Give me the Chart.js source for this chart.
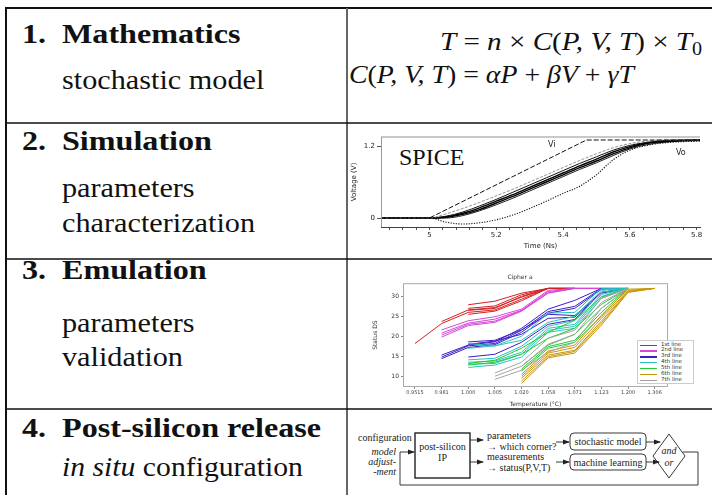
<!DOCTYPE html>
<html>
<head>
<meta charset="utf-8">
<script src="https://cdn.jsdelivr.net/npm/chart.js@4.4.0/dist/chart.umd.min.js"></script>
<style>
  body { margin: 0; width: 712px; height: 495px; overflow: hidden; background: #fff; position: relative; }
  .abs { position: absolute; }
  svg { position: absolute; left: 0; top: 0; }
  .t { position: absolute; font-family: "Liberation Serif", serif; font-size: 27px; line-height: normal; white-space: nowrap; color: #111; transform-origin: 0 0; }
  .h { font-weight: bold; transform: scaleX(1.19); }
  .r { transform: scaleX(1.12); }
  .f { font-size: 26px; }
  .f i { font-style: italic; }
  .sub { font-size: 18px; position: relative; top: 5px; }
  .lbl { position: absolute; font-family: "DejaVu Sans", sans-serif; color: #222; white-space: nowrap; }
  #legend { position: absolute; left: 637px; top: 340px; width: 55px; height: 42px; border: 1px solid #ccc; background: #fff; }
  #legend .item { position: absolute; left: 0; height: 6px; width: 55px; }
  #legend .swatch { position: absolute; left: 2px; top: 2.5px; width: 17px; height: 1.3px; }
  #legend .txt { position: absolute; left: 23px; top: -1.5px; font-family: "DejaVu Sans", sans-serif; font-size: 5.5px; color: #333; }
</style>
</head>
<body>

<svg width="712" height="495">
  <line x1="5" y1="8" x2="712" y2="8" stroke="#111" stroke-width="2"/>
  <line x1="6" y1="7" x2="6" y2="495" stroke="#111" stroke-width="2"/>
  <line x1="347" y1="8" x2="347" y2="495" stroke="#666" stroke-width="2"/>
  <line x1="6" y1="123" x2="712" y2="123" stroke="#111" stroke-width="1.5"/>
  <line x1="6" y1="259" x2="712" y2="259" stroke="#111" stroke-width="1.5"/>
  <line x1="6" y1="409" x2="712" y2="409" stroke="#111" stroke-width="1.5"/>
</svg>

<div class="t h" style="left:22px;top:19px">1.</div>
<div class="t h" style="left:62px;top:19px">Mathematics</div>
<div class="t r" style="left:62px;top:65px">stochastic model</div>
<div class="t h" style="left:22px;top:126px">2.</div>
<div class="t h" style="left:62px;top:126px">Simulation</div>
<div class="t r" style="left:62px;top:173px">parameters</div>
<div class="t r" style="left:62px;top:208px">characterization</div>
<div class="t h" style="left:22px;top:255px">3.</div>
<div class="t h" style="left:62px;top:255px">Emulation</div>
<div class="t r" style="left:62px;top:308px">parameters</div>
<div class="t r" style="left:62px;top:342px">validation</div>
<div class="t h" style="left:22px;top:413px">4.</div>
<div class="t h" style="left:62px;top:413px">Post-silicon release</div>
<div class="t" style="left:62px;top:452px;transform:scaleX(1.1)"><i>in situ</i> configuration</div>

<div class="t f" style="right:10px;top:27px;transform-origin:100% 0;transform:scaleX(1.12)"><i>T</i> = <i>n</i> × <i>C</i>(<i>P, V, T</i>) × <i>T</i><span class="sub">0</span></div>
<div class="t f" style="left:349px;top:60px;transform:scaleX(1.07)"><i>C</i>(<i>P, V, T</i>) = <i>αP</i> + <i>βV</i> + <i>γT</i></div>

<div class="t" style="left:399px;top:144px;font-size:24px">SPICE</div>
<div class="abs" style="left:350px;top:128px;width:360px;height:122px"><canvas id="spice-chart" width="360" height="122"></canvas></div>
<div class="lbl" style="left:548px;top:140px;font-size:8px">Vi</div>
<div class="lbl" style="left:676px;top:148px;font-size:8px">Vo</div>

<div class="abs" style="left:372px;top:268px;width:338px;height:140px"><canvas id="cipher-chart" width="338" height="140"></canvas></div>
<div id="legend"></div>

<svg style="left:346px;top:409px" width="366" height="86">
  <defs>
    <marker id="ah" markerWidth="7" markerHeight="6" refX="6" refY="3" orient="auto" markerUnits="userSpaceOnUse">
      <path d="M0,0.6 L7,3 L0,5.4 z" fill="#222"/>
    </marker>
  </defs>
  <g style="font-family:'Liberation Serif',serif;font-size:10px;fill:#222">
    <text x="12" y="32">configuration</text>
    <text x="50" y="46" text-anchor="end" font-style="italic">model</text>
    <text x="50" y="56" text-anchor="end" font-style="italic">adjust-</text>
    <text x="50" y="66" text-anchor="end" font-style="italic">-ment</text>
    <text x="96.5" y="41" text-anchor="middle">post-silicon</text>
    <text x="96.5" y="52" text-anchor="middle">IP</text>
    <text x="141" y="30">parameters</text>
    <text x="141" y="40.5">→ which corner?</text>
    <text x="141" y="50.5">measurements</text>
    <text x="141" y="62">→ status(P,V,T)</text>
    <text x="262" y="36" text-anchor="middle">stochastic model</text>
    <text x="262" y="57" text-anchor="middle">machine learning</text>
    <text x="323" y="45" text-anchor="middle" font-style="italic">and</text>
    <text x="323" y="57" text-anchor="middle" font-style="italic">or</text>
  </g>
  <g fill="none" stroke="#222" stroke-width="0.9">
    <rect x="69" y="24" width="55" height="45" stroke-width="1.4"/>
    <line x1="124" y1="31" x2="137" y2="31" marker-end="url(#ah)"/>
    <line x1="124" y1="53" x2="137" y2="53" marker-end="url(#ah)"/>
    <line x1="210" y1="33" x2="223" y2="33" marker-end="url(#ah)"/>
    <line x1="210" y1="53" x2="223" y2="53" marker-end="url(#ah)"/>
    <rect x="224" y="24" width="76" height="17" rx="4"/>
    <rect x="224" y="45" width="76" height="16" rx="4"/>
    <line x1="300" y1="33" x2="314" y2="33" marker-end="url(#ah)"/>
    <line x1="300" y1="53" x2="313" y2="53" marker-end="url(#ah)"/>
    <polygon points="323,25 339,47 323,69 307,47"/>
    <polyline points="337,43 352,43 352,76 54,76 54,43 68,43" marker-end="url(#ah)"/>
  </g>
</svg>

<script>
// ---- SPICE transient (Voltage vs time) ----
var spiceTime = [4.855, 5.0, 5.05, 5.1, 5.15, 5.2, 5.25, 5.3, 5.35, 5.4, 5.45, 5.5, 5.55, 5.6, 5.65, 5.7, 5.75, 5.81];
var viTime = [4.855, 5.0, 5.47, 5.81];
var viVolt = [0, 0, 1.3, 1.3];
var voGray = [0, 0, 0.07, 0.16, 0.26, 0.37, 0.48, 0.6, 0.72, 0.84, 0.96, 1.07, 1.17, 1.24, 1.28, 1.3, 1.3, 1.3];
var voA = [0, 0, 0.03, 0.1, 0.2, 0.31, 0.43, 0.55, 0.67, 0.79, 0.91, 1.02, 1.13, 1.21, 1.26, 1.29, 1.3, 1.3];
var voB = [0, 0, 0.02, 0.08, 0.17, 0.28, 0.39, 0.51, 0.63, 0.75, 0.87, 0.98, 1.1, 1.19, 1.25, 1.28, 1.29, 1.3];
var voC = [0, 0, 0.01, 0.06, 0.14, 0.25, 0.36, 0.48, 0.6, 0.72, 0.84, 0.95, 1.07, 1.17, 1.24, 1.27, 1.29, 1.3];
var voD = [0, 0, 0, 0.04, 0.12, 0.22, 0.33, 0.45, 0.57, 0.69, 0.81, 0.92, 1.04, 1.15, 1.22, 1.26, 1.28, 1.29];
var voLow = [0, 0, -0.07, -0.1, -0.08, -0.03, 0.05, 0.16, 0.28, 0.41, 0.53, 0.72, 0.97, 1.13, 1.21, 1.25, 1.27, 1.28];
var spiceYTicks = [0, 1.2];

// ---- Cipher a (Status DS vs temperature) ----
var tempLabels = ["0.9515", "0.981", "1.000", "1.005", "1.020", "1.058", "1.071", "1.123", "1.200", "1.306"];
var lineNames = ["1st line", "2nd line", "3rd line", "4th line", "5th line", "6th line", "7th line"];
var lineColors = ["#d62020", "#d846d8", "#3a1fc8", "#28c4bc", "#26c834", "#c8960a", "#a4a4a4"];
var line1 = [
  [18.2, 23.2, 26.0, 26.6, 29.3, 32, 32, null, null, null],
  [null, 23.7, 26.6, 27.2, 29.8, 32, 32, null, null, null],
  [null, null, 27.9, 28.8, 30.8, 32, 32, null, null, null],
  [null, null, 27.0, 27.6, 30.4, 32, 32, null, null, null],
  [null, null, 26.5, 27.0, 30.0, 32, 32, null, null, null],
  [null, null, 25.5, 26.3, 28.9, 32, 32, null, null, null]
];
var line2 = [
  [null, 21.6, 23.9, 24.9, 26.8, 31.5, 32, 32, null, null],
  [null, 20.8, 23.3, 24.3, 26.5, 31.2, 32, 32, null, null],
  [null, 20.3, 23.0, 23.8, 26.4, 30.9, 32, 32, null, null],
  [null, 19.8, 22.7, 23.5, 26.3, 30.8, 32, 32, null, null]
];
var line3 = [
  [null, 15.3, 17.8, 18.6, 22.0, 26.8, 29.0, 32, 32, null],
  [null, 14.8, 17.6, 18.2, 21.5, 26.2, 27.5, 32, 32, null],
  [null, 14.4, 17.2, 17.9, 21.0, 25.8, 27.0, 31.8, 32, null],
  [null, null, 18.6, 19.0, 21.6, 25.5, 25.2, 31.0, 32, null],
  [null, null, 18.0, 18.8, 20.5, 24.5, 24.8, 30.8, 32, null],
  [null, null, 14.8, 15.5, 18.5, 23.0, 24.2, 31.0, 32, null]
];
var line4 = [
  [null, null, 18.2, 17.6, 20.0, 25.8, 26.0, 32, 32, null],
  [null, null, 17.0, 17.6, 19.0, 23.5, 25.0, 31.5, 32, null],
  [null, null, 14.1, 14.5, 17.5, 22.5, 24.0, 31.0, 32, null],
  [null, null, 13.5, 13.8, 16.0, 22.0, 23.0, 30.5, 32, null],
  [null, null, 13.0, 13.2, 15.5, 21.5, 22.5, 30.0, 32, null],
  [null, null, 12.2, 12.8, 14.8, 21.0, 22.0, 29.5, 32, null]
];
var line5 = [
  [null, null, 13.2, 14.0, 17.0, 21.0, 24.0, 29.8, 32, null],
  [null, null, 12.8, 13.5, 15.5, 19.5, 22.0, 28.0, 32, null],
  [null, null, null, null, 12.5, 17.8, 20.5, 27.0, 32, null],
  [null, null, null, null, 11.8, 17.4, 19.0, 26.0, 32, null],
  [null, null, null, null, 11.3, 17.0, 18.5, 25.0, 32, null]
];
var line6 = [
  [null, null, null, null, 10.5, 16.3, 17.8, 25.3, 31.8, 32],
  [null, null, null, null, 10.0, 15.8, 17.2, 24.5, 31.5, 32],
  [null, null, null, null, 9.5, 15.3, 16.5, 23.8, 31.3, 32],
  [null, null, null, null, 8.8, 14.9, 16.2, 23.3, 31.1, 32],
  [null, null, null, null, 8.2, 14.6, 15.8, 22.8, 31.0, 32]
];
var line7 = [
  [null, null, null, 10.8, 13.5, 19.5, 21.5, 29.5, 32, null],
  [null, null, null, 10.0, 12.5, 18.0, 20.5, 28.5, 32, null],
  [null, null, null, 9.2, 11.5, 16.0, 18.5, 27.0, 32, null]
];
var cipherYTicks = [10, 15, 20, 25, 30];

Chart.defaults.font.family = "DejaVu Sans";
Chart.defaults.color = "#222";

var toPoints = function(xs, ys) {
  return xs.map(function(x, i) { return { x: x, y: ys[i] }; });
};

var spiceFrame = {
  id: "spiceFrame",
  afterDraw: function(chart) {
    var a = chart.chartArea, ctx = chart.ctx;
    ctx.save();
    ctx.strokeStyle = "#c8c8c8";
    ctx.lineWidth = 2;
    ctx.beginPath();
    ctx.moveTo(a.left, a.top);
    ctx.lineTo(a.right, a.top);
    ctx.stroke();
    ctx.strokeStyle = "#999";
    ctx.lineWidth = 1;
    ctx.beginPath();
    ctx.moveTo(a.left + 0.5, a.top);
    ctx.lineTo(a.left + 0.5, a.bottom);
    ctx.stroke();
    ctx.restore();
  }
};

var spiceLine = function(ys, color, width, dash) {
  return {
    data: toPoints(spiceTime, ys),
    borderColor: color,
    borderWidth: width,
    borderDash: dash,
    cubicInterpolationMode: "monotone",
    pointRadius: 0,
    fill: false
  };
};

var spiceChart = new Chart(document.getElementById("spice-chart").getContext("2d"), {
  type: "line",
  data: {
    datasets: [
      { data: toPoints(viTime, viVolt), borderColor: "#111", borderWidth: 1, borderDash: [5, 2], pointRadius: 0, tension: 0 },
      spiceLine(voGray, "#777", 0.8, [3, 1.5]),
      spiceLine(voA, "#111", 1, []),
      spiceLine(voB, "#000", 1.4, []),
      spiceLine(voC, "#000", 1.4, []),
      spiceLine(voD, "#222", 1, []),
      spiceLine(voLow, "#111", 1.1, [1.2, 1.4])
    ]
  },
  options: {
    responsive: false,
    animation: false,
    layout: { padding: { top: 9, right: 10, left: 0, bottom: 0 } },
    plugins: { legend: { display: false }, tooltip: { enabled: false } },
    scales: {
      x: {
        type: "linear", min: 4.855, max: 5.81,
        afterBuildTicks: function(axis) {
          var t = [];
          for (var k = 122; k <= 145; k++) t.push({ value: Math.round(k * 4) / 100 });
          axis.ticks = t;
        },
        afterFit: function(s) { s.height = 23; },
        ticks: {
          autoSkip: false, maxRotation: 0, padding: 1, font: { size: 7 },
          callback: function(v) {
            var r = Math.round(v * 100);
            return r % 20 === 0 ? String(r / 100) : "";
          }
        },
        grid: { drawOnChartArea: false, tickLength: 3, color: "#555" },
        border: { color: "#444" },
        title: { display: true, text: "Time (Ns)", font: { size: 7 }, padding: 0 }
      },
      y: {
        min: -0.15, max: 1.35,
        afterBuildTicks: function(axis) {
          axis.ticks = spiceYTicks.map(function(v) { return { value: v }; });
        },
        afterFit: function(s) { s.width = 31; },
        ticks: { font: { size: 7 }, padding: 2, callback: function(v) { return v === 0 ? "0" : v.toFixed(1); } },
        grid: { drawOnChartArea: false, tickLength: 4, color: "#555" },
        border: { display: false },
        title: { display: true, text: "Voltage (V)", font: { size: 7 }, padding: 0 }
      }
    }
  },
  plugins: [spiceFrame]
});

// cipher chart
var cipherGroups = [line1, line2, line3, line4, line5, line6, line7];
var cipherSets = [];
cipherGroups.forEach(function(group, gi) {
  group.forEach(function(row) {
    cipherSets.push({
      data: row.map(function(v, i) { return { x: i, y: v }; }),
      borderColor: lineColors[gi],
      borderWidth: 1,
      pointRadius: 0,
      tension: 0,
      spanGaps: false
    });
  });
});
cipherSets.forEach(function(ds, i) { ds.order = cipherSets.length - i; });

var cipherFrame = {
  id: "cipherFrame",
  afterDraw: function(chart) {
    var a = chart.chartArea, ctx = chart.ctx;
    ctx.save();
    ctx.strokeStyle = "#aaa";
    ctx.lineWidth = 1;
    ctx.strokeRect(a.left + 0.5, a.top + 0.5, a.right - a.left - 1, a.bottom - a.top - 1);
    ctx.restore();
  }
};

var cipherChart = new Chart(document.getElementById("cipher-chart").getContext("2d"), {
  type: "line",
  data: { datasets: cipherSets },
  options: {
    responsive: false,
    animation: false,
    layout: { padding: { top: 6, right: 42, left: 0, bottom: 0 } },
    plugins: {
      legend: { display: false },
      tooltip: { enabled: false },
      title: { display: true, text: "Cipher a", font: { size: 6, weight: "normal" }, padding: { top: 0, bottom: 2 }, color: "#333" }
    },
    scales: {
      x: {
        type: "linear", min: -0.45, max: 9.5,
        afterBuildTicks: function(axis) {
          axis.ticks = tempLabels.map(function(l, i) { return { value: i }; });
        },
        afterFit: function(s) { s.height = 21; },
        ticks: { autoSkip: false, maxRotation: 0, padding: 1, font: { size: 5 }, color: "#444",
          callback: function(v) { return tempLabels[v]; } },
        grid: { drawOnChartArea: false, tickLength: 2, color: "#888" },
        border: { display: false },
        title: { display: true, text: "Temperature (°C)", font: { size: 6 }, padding: 0, color: "#333" }
      },
      y: {
        min: 7.3, max: 33.3,
        afterBuildTicks: function(axis) {
          axis.ticks = cipherYTicks.map(function(v) { return { value: v }; });
        },
        afterFit: function(s) { s.width = 31; },
        ticks: { font: { size: 6 }, padding: 2, color: "#333" },
        grid: { drawOnChartArea: false, tickLength: 2, color: "#888" },
        border: { display: false },
        title: { display: true, text: "Status DS", font: { size: 6 }, padding: 0, color: "#333" }
      }
    }
  },
  plugins: [cipherFrame]
});

// legend for the cipher chart
var legend = document.getElementById("legend");
lineNames.forEach(function(name, i) {
  var item = document.createElement("div");
  item.className = "item";
  item.style.top = (1 + i * 5.9) + "px";
  item.innerHTML = '<div class="swatch" style="background:' + lineColors[i] + '"></div><div class="txt">' + name + '</div>';
  legend.appendChild(item);
});
</script>
</body>
</html>
